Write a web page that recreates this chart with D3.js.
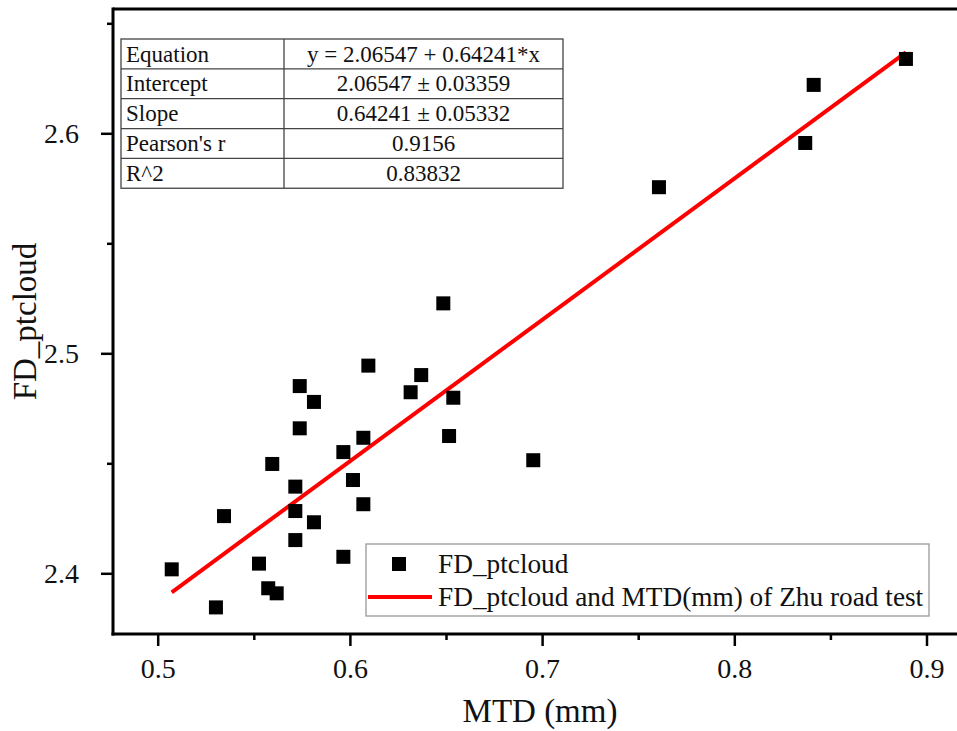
<!DOCTYPE html>
<html>
<head>
<meta charset="utf-8">
<script src="https://cdn.jsdelivr.net/npm/d3@7"></script>
<style>
  html, body { margin: 0; padding: 0; background: #fff; }
  svg { display: block; }
  svg text { font-family: "Liberation Serif", "Times New Roman", Times, Tinos, "Nimbus Roman", "DejaVu Serif", serif !important; fill: #111; }
</style>
</head>
<body>
<svg id="chart" width="957" height="731"></svg>
<script>
// Measured MTD (mm) and point-cloud fractal dimension
const mtd = [0.5073, 0.5303, 0.5345, 0.5527, 0.5575, 0.5619, 0.5596, 0.5716, 0.5716, 0.5716,
             0.5739, 0.5739, 0.5813, 0.5813, 0.5966, 0.5966, 0.6016, 0.6070, 0.6070, 0.6096,
             0.6316, 0.6371, 0.6486, 0.6516, 0.6538, 0.6954, 0.7608, 0.8369, 0.8413, 0.8893];
const fdPtcloud = [2.4018, 2.3845, 2.4260, 2.4044, 2.3932, 2.3909, 2.4497, 2.4394, 2.4283, 2.4151,
                   2.4659, 2.4851, 2.4232, 2.4779, 2.4551, 2.4075, 2.4424, 2.4314, 2.4616, 2.4944,
                   2.4823, 2.4901, 2.5227, 2.4624, 2.4798, 2.4514, 2.5755, 2.5956, 2.6220, 2.6338];

// Linear fit results
const intercept = 2.06547;
const slope = 0.64241;
const statNames = ["Equation", "Intercept", "Slope", "Pearson's r", "R^2"];
const statValues = ["y = 2.06547 + 0.64241*x", "2.06547 \u00b1 0.03359", "0.64241 \u00b1 0.05332", "0.9156", "0.83832"];

const xMajorTicks = [0.5, 0.6, 0.7, 0.8, 0.9];
const xMinorTicks = [0.55, 0.65, 0.75, 0.85];
const yMajorTicks = [2.4, 2.5, 2.6];
const yMinorTicks = [2.45, 2.55, 2.65];

const legendLabels = ["FD_ptcloud", "FD_ptcloud and MTD(mm) of Zhu road test"];

const svg = d3.select("#chart");
const plot = { left: 113, right: 962, top: 9, bottom: 634 };

const x = d3.scaleLinear().domain([0.5, 0.9]).range([157.7, 926.5]);
const y = d3.scaleLinear().domain([2.4, 2.6]).range([573.3, 133.3]);

const fmt = d3.format(".1f");

// Frame: top edge
svg.append("line").attr("x1", plot.left).attr("x2", plot.right)
  .attr("y1", plot.top).attr("y2", plot.top)
  .attr("stroke", "#000").attr("stroke-width", 3);

// Bottom axis
const xAxis = svg.append("g").attr("transform", `translate(0,${plot.bottom})`);
xAxis.call(d3.axisBottom(x).tickValues(xMinorTicks).tickSize(6).tickFormat(""))
  .call(g => g.select(".domain").remove());
xAxis.selectAll(".tick line").attr("stroke", "#000").attr("stroke-width", 2.5);
const xAxisMajor = svg.append("g").attr("transform", `translate(0,${plot.bottom})`);
xAxisMajor.call(d3.axisBottom(x).tickValues(xMajorTicks).tickSize(12).tickPadding(12).tickFormat(fmt))
  .call(g => g.select(".domain").remove());
xAxisMajor.selectAll(".tick line").attr("stroke", "#000").attr("stroke-width", 2.5);
xAxisMajor.selectAll(".tick text").attr("font-size", 28).attr("fill", "#111");

svg.append("line").attr("x1", plot.left - 1.5).attr("x2", plot.right)
  .attr("y1", plot.bottom).attr("y2", plot.bottom)
  .attr("stroke", "#000").attr("stroke-width", 3);

// Left axis
const yAxis = svg.append("g").attr("transform", `translate(${plot.left},0)`);
yAxis.call(d3.axisLeft(y).tickValues(yMinorTicks).tickSize(6).tickFormat(""))
  .call(g => g.select(".domain").remove());
yAxis.selectAll(".tick line").attr("stroke", "#000").attr("stroke-width", 2.5);
const yAxisMajor = svg.append("g").attr("transform", `translate(${plot.left},0)`);
yAxisMajor.call(d3.axisLeft(y).tickValues(yMajorTicks).tickSize(12).tickPadding(22).tickFormat(fmt))
  .call(g => g.select(".domain").remove());
yAxisMajor.selectAll(".tick line").attr("stroke", "#000").attr("stroke-width", 2.5);
yAxisMajor.selectAll(".tick text").attr("font-size", 28).attr("fill", "#111");

svg.append("line").attr("x1", plot.left).attr("x2", plot.left)
  .attr("y1", plot.top - 1.5).attr("y2", plot.bottom + 1.5)
  .attr("stroke", "#000").attr("stroke-width", 3);

// Axis titles
svg.append("text").attr("x", 540).attr("y", 722)
  .attr("text-anchor", "middle").attr("font-size", 33).text("MTD (mm)");
svg.append("text")
  .attr("transform", `translate(36,${(plot.top + plot.bottom) / 2}) rotate(-90)`)
  .attr("text-anchor", "middle").attr("font-size", 33).text("FD_ptcloud");

// Fitted line across the data range
const xExt = d3.extent(mtd);
svg.append("line")
  .attr("x1", x(xExt[0])).attr("y1", y(intercept + slope * xExt[0]))
  .attr("x2", x(xExt[1])).attr("y2", y(intercept + slope * xExt[1]))
  .attr("stroke", "#ff0000").attr("stroke-width", 4);

// Data points
const sq = 14;
svg.append("g").selectAll("rect")
  .data(mtd.map((v, i) => [v, fdPtcloud[i]]))
  .join("rect")
  .attr("x", d => x(d[0]) - sq / 2)
  .attr("y", d => y(d[1]) - sq / 2)
  .attr("width", sq).attr("height", sq)
  .attr("fill", "#000");

// Fit statistics table
const tbl = { left: 121, top: 39, col: 284, right: 563, rowH: 29.85 };
const tg = svg.append("g");
tg.append("rect").attr("x", tbl.left).attr("y", tbl.top)
  .attr("width", tbl.right - tbl.left).attr("height", tbl.rowH * statNames.length)
  .attr("fill", "#fff").attr("stroke", "#444").attr("stroke-width", 1.3);
tg.append("line").attr("x1", tbl.col).attr("x2", tbl.col)
  .attr("y1", tbl.top).attr("y2", tbl.top + tbl.rowH * statNames.length)
  .attr("stroke", "#444").attr("stroke-width", 1.3);
statNames.forEach((name, i) => {
  const ry = tbl.top + i * tbl.rowH;
  if (i > 0) {
    tg.append("line").attr("x1", tbl.left).attr("x2", tbl.right)
      .attr("y1", ry).attr("y2", ry)
      .attr("stroke", "#444").attr("stroke-width", 1.3);
  }
  tg.append("text").attr("x", tbl.left + 5).attr("y", ry + 22.5)
    .attr("font-size", 23).text(name);
  tg.append("text").attr("x", (tbl.col + tbl.right) / 2).attr("y", ry + 22.5)
    .attr("text-anchor", "middle").attr("font-size", 23).text(statValues[i]);
});

// Legend
const lg = svg.append("g");
lg.append("rect").attr("x", 366).attr("y", 544).attr("width", 563).attr("height", 72)
  .attr("fill", "#fff").attr("stroke", "#999").attr("stroke-width", 1.3);
lg.append("rect").attr("x", 399 - sq / 2).attr("y", 564 - sq / 2)
  .attr("width", sq).attr("height", sq).attr("fill", "#000");
lg.append("line").attr("x1", 368).attr("x2", 432).attr("y1", 597).attr("y2", 597)
  .attr("stroke", "#ff0000").attr("stroke-width", 4);
lg.append("text").attr("x", 438).attr("y", 573).attr("font-size", 27.3).text(legendLabels[0]);
lg.append("text").attr("x", 438).attr("y", 606).attr("font-size", 27.3).text(legendLabels[1]);
</script>
</body>
</html>
